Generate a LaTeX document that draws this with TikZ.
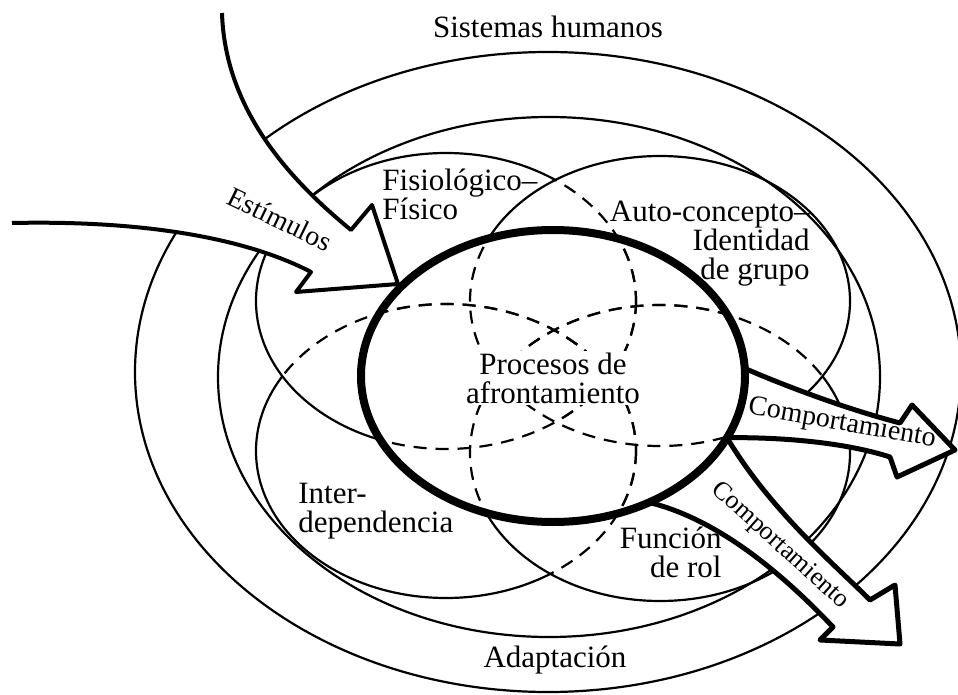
\documentclass[tikz,border=0pt]{standalone}
\usepackage{fontspec}
\setmainfont{Liberation Serif}

% ellipses (px, y hacia abajo)
\newcommand{\elProc}{(553,376) ellipse [x radius=192, y radius=146]}
\newcommand{\elFis}{(446,301) ellipse [x radius=190, y radius=148]}
\newcommand{\elAut}{(660,301) ellipse [x radius=190, y radius=145]}
\newcommand{\elInt}{(446,451) ellipse [x radius=190, y radius=147]}
\newcommand{\elRol}{(660,453) ellipse [x radius=190, y radius=148]}
\newcommand{\flEstim}{(222,13) .. controls (225,110) and (290,180) .. (351,230) -- (372,205) -- (398,284) -- (296,292) -- (311,272) .. controls (250,240) and (150,220) .. (12,223)}

\begin{document}
\begin{tikzpicture}[x=0.5pt, y=-0.5pt, line join=round,
  anillo/.style={line width=1.1pt},
  modo/.style={line width=1.1pt, fill=white},
  oculto/.style={line width=1.1pt, dash pattern=on 6.5pt off 4.5pt},
  flecha/.style={line width=2.5pt, fill=white},
  texto/.style={font=\fontsize{15.5}{14.5}\selectfont, inner sep=1pt},
  enflecha/.style={font=\fontsize{14}{14}\selectfont, inner sep=0pt}]
\useasboundingbox (0,0) rectangle (958,695);

% modos, de abajo hacia arriba
\draw[modo] \elInt;
\draw[modo] \elRol;
\draw[modo] \elFis;
\draw[modo] \elAut;
\fill[white] \elProc;

% partes tapadas
\begin{scope} \clip \elFis; \draw[oculto] \elInt; \end{scope}
\begin{scope} \clip \elRol; \draw[oculto] \elInt; \end{scope}
\begin{scope} \clip \elAut; \draw[oculto] \elFis; \draw[oculto] \elRol; \end{scope}
\begin{scope} \clip \elProc;
  \draw[oculto] \elInt; \draw[oculto] \elRol;
  \draw[oculto] \elFis; \draw[oculto] \elAut;
\end{scope}

% anillos
\draw[anillo] (548,372) ellipse [x radius=413, y radius=320];
\draw[anillo] (549,377) ellipse [x radius=331, y radius=260];

% flechas
\fill[white] \flEstim -- (12,13) -- cycle;
\draw[line width=2pt] \flEstim;
\filldraw[flecha] (744.7,368.4) .. controls (790,388) and (850,410) .. (900,423) -- (912,405) -- (955,450) -- (897,477) -- (890,457)
  .. controls (850,444) and (790,437) .. (727,437.7) arc[start angle=25, end angle=-3, x radius=192, y radius=146] -- cycle;
\filldraw[flecha] (649,502.4) .. controls (700,515) and (760,550) .. (833,627) -- (820,640) -- (900,644) -- (895,585) -- (870,600)
  .. controls (835,565) and (770,510) .. (727,437.7) arc[start angle=25, end angle=60, x radius=192, y radius=146] -- cycle;
\draw[line width=4pt] \elProc;

\node[texto] (sist) at (548,27) {Sistemas humanos};
\node[texto] (adap) at (555,660) {Adaptación};
\node[enflecha, rotate=-26] (estim) at (280,219) {Estímulos};
\node[texto, align=center, fill=white] (proc) at (553,378) {Procesos de\\afrontamiento};
\node[texto, align=left, anchor=west] (fis) at (380,194) {Fisiológico–\\Físico};
\node[texto, align=right, anchor=east] (auto) at (812,244) {Auto-concepto–\\Identidad\\de grupo};
\node[texto, align=left, anchor=west] (inter) at (296,511) {Inter-\\dependencia};
\node[texto, align=right, anchor=east] (rol) at (724,552) {Función\\de rol};
\node[enflecha, rotate=-10] (comp1) at (842,424) {Comportamiento};
\node[enflecha, font=\fontsize{13}{14}\selectfont, rotate=-42] (comp2) at (780,546) {Comportamiento};
\end{tikzpicture}
\end{document}
